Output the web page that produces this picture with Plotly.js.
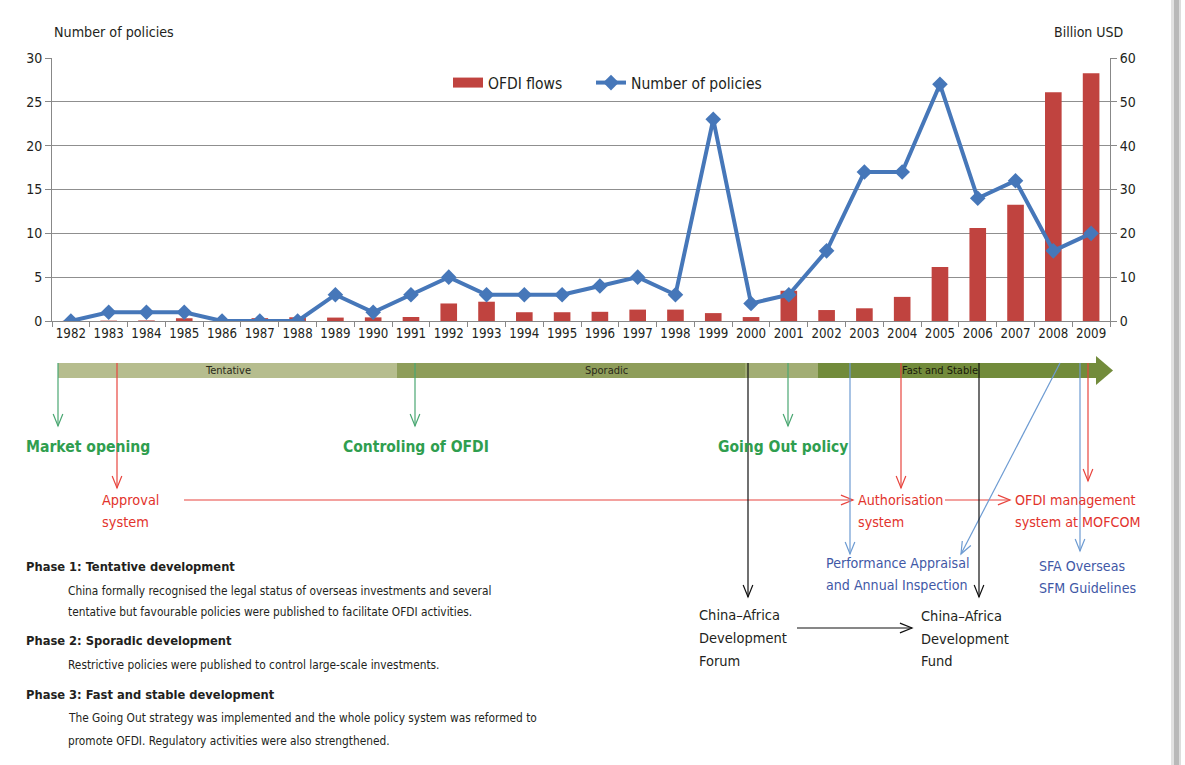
<!DOCTYPE html>
<html>
<head>
<meta charset="utf-8">
<script src="https://cdn.plot.ly/plotly-3.0.1.min.js"></script>
<style>html,body{margin:0;padding:0;background:#fff;}#chart{width:1185px;height:765px;}</style>
</head>
<body>
<div id="chart"></div>
<script>
// ---- data ----
const years = ['1982','1983','1984','1985','1986','1987','1988','1989','1990','1991','1992','1993','1994','1995','1996','1997','1998','1999','2000','2001','2002','2003','2004','2005','2006','2007','2008','2009'];
const policies = [0,1,1,1,0,0,0,3,1,3,5,3,3,3,4,5,3,23,2,3,8,17,17,27,14,16,8,10];
const ofdiFlows = [0.04,0.09,0.13,0.63,0.45,0.65,0.85,0.78,0.83,0.91,4.0,4.4,2.0,2.0,2.1,2.6,2.6,1.8,0.9,6.9,2.5,2.9,5.5,12.3,21.2,26.5,52.2,56.5];
const seriesNames = ['OFDI flows','Number of policies'];
const leftTitle = 'Number of policies';
const rightTitle = 'Billion USD';
const phaseLabels = ['Tentative','Sporadic','Fast and Stable'];

// ---- geometry helpers (pixel -> paper) ----
const W = 1185, H = 765, L = 52, R = 1110, T = 58, B = 321;
const px = x => (x - L) / (R - L);
const py = y => (B - y) / (B - T);
const F = '"DejaVu Sans Condensed", "DejaVu Sans", sans-serif';
const TXT = '#231f20';
const BAR = '#c0433f', LINE = '#4677b9';

const shapes = [];
const annotations = [];

function rect(x0, y0, x1, y1, color) {
  shapes.push({type:'rect', xref:'paper', yref:'paper', x0:px(x0), x1:px(x1), y0:py(y1), y1:py(y0),
    fillcolor:color, line:{width:0}, layer:'above'});
}
function arrow(x1, y1, x2, y2, color, w) {
  shapes.push({type:'line', xref:'paper', yref:'paper', x0:px(x1), y0:py(y1), x1:px(x2), y1:py(y2),
    line:{color:color, width:w || 1.2}, layer:'above'});
  const ang = Math.atan2(y2 - y1, x2 - x1), len = 13, h = 0.38;
  const ax = x2 - len * Math.cos(ang - h), ay = y2 - len * Math.sin(ang - h);
  const bx = x2 - len * Math.cos(ang + h), by = y2 - len * Math.sin(ang + h);
  shapes.push({type:'path', xref:'paper', yref:'paper',
    path:`M${px(ax)},${py(ay)} L${px(x2)},${py(y2)} L${px(bx)},${py(by)}`,
    line:{color:color, width:w || 1.2}, layer:'above'});
}
function txt(x, y, text, size, color, extra) {
  annotations.push(Object.assign({xref:'paper', yref:'paper', x:px(x), y:py(y), text:text, showarrow:false,
    xanchor:'left', yanchor:'middle', font:{family:F, size:size, color:color}}, extra || {}));
}

// ---- timeline bar ----
rect(58, 363, 397, 378, '#b6bd8e');
rect(397, 363, 745, 378, '#8e9d5a');
rect(745, 363, 818, 378, '#a2ad74');
rect(818, 363, 1097, 378, '#728b3b');
shapes.push({type:'path', xref:'paper', yref:'paper',
  path:`M${px(1096)},${py(356)} L${px(1113)},${py(370.5)} L${px(1096)},${py(385)} Z`,
  fillcolor:'#728b3b', line:{width:0}, layer:'above'});
txt(228, 370.5, phaseLabels[0], 11, '#2a2a1a', {xanchor:'center'});
txt(606, 370.5, phaseLabels[1], 11, '#2a2a1a', {xanchor:'center'});
txt(940, 370.5, phaseLabels[2], 11, '#1a1a0a', {xanchor:'center'});

// ---- arrows ----
const G = '#4aa772', RD = '#e8453e', BL = '#6d9bd2', BK = '#111111';
arrow(58, 363, 58, 426, G);
arrow(415, 363, 415, 426, G);
arrow(788, 363, 788, 426, G);
arrow(117, 363, 117, 488, RD);
arrow(901, 363, 901, 488, RD);
arrow(1088, 363, 1088, 481, RD);
arrow(184, 500, 853, 500, RD);
arrow(945, 500, 1010, 500, RD);
arrow(850, 363, 850, 554, BL);
arrow(1060, 363, 961, 554, BL);
arrow(1080, 363, 1080, 551, BL);
arrow(748, 363, 748, 597, BK);
arrow(979, 363, 979, 597, BK);
arrow(797, 628, 912, 628, BK);

// ---- labels ----
const GT = '#2f9e4f', RT = '#e2332c', BT = '#3f58a6';
txt(24, 447, '<b>Market opening</b>', 15.6, GT);
txt(416, 447, '<b>Controling of OFDI</b>', 15.5, GT, {xanchor:'center'});
txt(783, 447, '<b>Going Out policy</b>', 15.5, GT, {xanchor:'center'});
txt(100, 500, 'Approval', 14.4, RT);
txt(100, 522, 'system', 14.4, RT);
txt(856, 500, 'Authorisation', 14.2, RT);
txt(856, 522, 'system', 14.2, RT);
txt(1013, 500, 'OFDI management', 14.2, RT);
txt(1013, 522, 'system at MOFCOM', 14.2, RT);
txt(824, 563, 'Performance Appraisal', 14.1, BT);
txt(824, 585, 'and Annual Inspection', 14.1, BT);
txt(1037, 566, 'SFA Overseas', 14.1, BT);
txt(1037, 588, 'SFM Guidelines', 14.1, BT);
txt(697, 615, 'China–Africa', 14.5, TXT);
txt(697, 638, 'Development', 14.5, TXT);
txt(697, 661, 'Forum', 14.5, TXT);
txt(919, 616, 'China–Africa', 14.5, TXT);
txt(919, 639, 'Development', 14.5, TXT);
txt(919, 661, 'Fund', 14.5, TXT);

txt(24, 566, '<b>Phase 1: Tentative development</b>', 12.8, TXT);
txt(66, 591, 'China formally recognised the legal status of overseas investments and several', 11.8, TXT);
txt(66, 612, 'tentative but favourable policies were published to facilitate OFDI activities.', 11.8, TXT);
txt(24, 641, '<b>Phase 2: Sporadic development</b>', 12.8, TXT);
txt(66, 665, 'Restrictive policies were published to control large-scale investments.', 11.8, TXT);
txt(24, 694, '<b>Phase 3: Fast and stable development</b>', 12.8, TXT);
txt(66, 718, 'The Going Out strategy was implemented and the whole policy system was reformed to', 11.8, TXT);
txt(66, 741, 'promote OFDI. Regulatory activities were also strengthened.', 11.8, TXT);

txt(52, 32, leftTitle, 14.2, TXT);
txt(1125, 32, rightTitle, 14, TXT, {xanchor:'right'});

// page shadow at right edge
rect(1171, 0, 1174, 765, '#e2e2e2');
rect(1174, 0, 1179, 765, '#b9b9b9');
rect(1179, 0, 1181, 765, '#dddddd');

// ---- traces ----
const traces = [
  {type:'bar', name:seriesNames[0], x:years, y:ofdiFlows, yaxis:'y', width:0.44,
   marker:{color:BAR}, showlegend:false},
  {type:'scatter', mode:'lines+markers', name:seriesNames[1], x:years, y:policies, yaxis:'y2',
   line:{color:LINE, width:4}, marker:{symbol:'diamond', size:12, color:LINE}, legend:'legend2'},
  // legend key for the bars (wide swatch like the original)
  {type:'scatter', mode:'lines', name:seriesNames[0], x:[null], y:[null], yaxis:'y',
   line:{color:BAR, width:12}, legend:'legend', showlegend:true, hoverinfo:'skip'}
];

const legendCommon = {orientation:'h', yanchor:'middle', xanchor:'left',
  font:{family:F, size:15.5, color:TXT}, bgcolor:'rgba(0,0,0,0)', borderwidth:0};

const layout = {
  width:W, height:H,
  margin:{l:L, r:W - R, t:T, b:H - B, pad:0},
  paper_bgcolor:'#fff', plot_bgcolor:'#fff',
  font:{family:F, size:14, color:TXT},
  showlegend:true,
  legend:Object.assign({}, legendCommon, {x:px(448), y:py(83)}),
  legend2:Object.assign({}, legendCommon, {x:px(591), y:py(83)}),
  xaxis:{type:'category', range:[-0.5, 27.5], tickson:'boundaries', ticks:'outside', ticklen:5, tickangle:0,
    tickcolor:'#888', showline:true, linecolor:'#888', linewidth:1, showgrid:false,
    tickfont:{family:F, size:13.2, color:TXT}, fixedrange:true},
  yaxis:{side:'right', range:[0, 60], dtick:10, showgrid:true, gridcolor:'#8f8f8f', gridwidth:1,
    showline:true, linecolor:'#888', ticks:'outside', ticklen:6, tickcolor:'#888', zeroline:false,
    tickfont:{family:F, size:14, color:TXT}, fixedrange:true},
  yaxis2:{overlaying:'y', side:'left', range:[0, 30], dtick:5, showgrid:false,
    showline:true, linecolor:'#888', ticks:'outside', ticklen:6, tickcolor:'#888', zeroline:false,
    tickfont:{family:F, size:14, color:TXT}, fixedrange:true},
  shapes:shapes,
  annotations:annotations
};

Plotly.newPlot('chart', traces, layout, {displayModeBar:false, staticPlot:true});
</script>
</body>
</html>
